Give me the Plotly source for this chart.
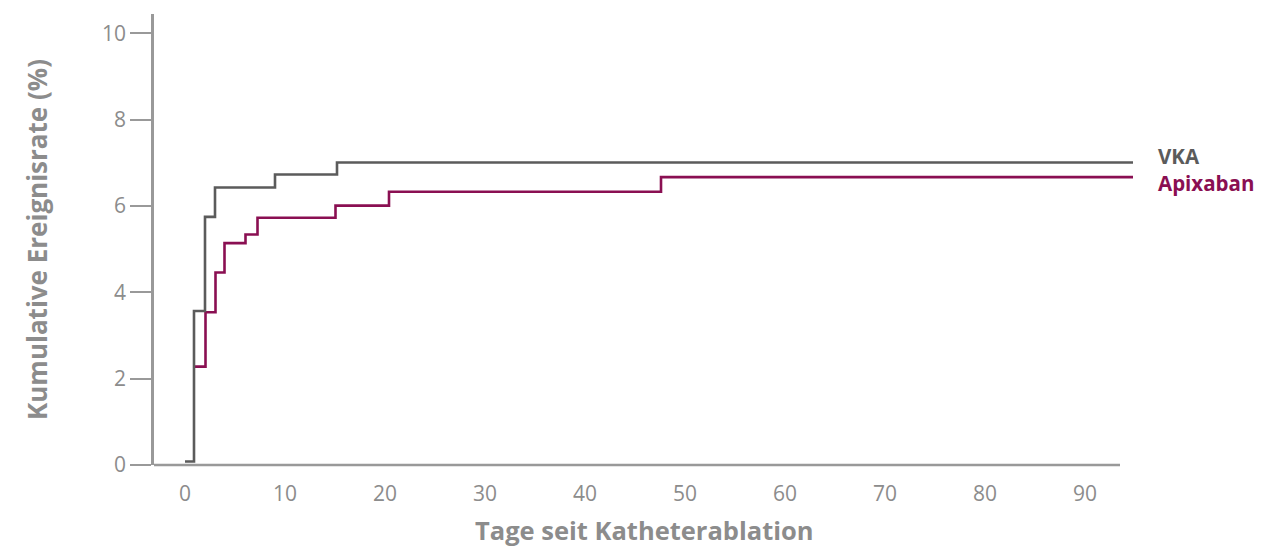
import plotly.graph_objects as go

# Data (days since catheter ablation, cumulative event rate %)
vka_days = [0, 0.9, 0.9, 2, 2, 3, 3, 9, 9, 15.2, 15.2, 94.8]
vka_rate = [0.08, 0.08, 3.57, 3.57, 5.75, 5.75, 6.43, 6.43, 6.73, 6.73, 7.01, 7.01]

apx_days = [0.9, 2.05, 2.05, 3.05, 3.05, 3.95, 3.95, 6.05, 6.05, 7.25, 7.25, 15.05, 15.05, 20.4, 20.4, 47.6, 47.6, 94.8]
apx_rate = [2.28, 2.28, 3.54, 3.54, 4.46, 4.46, 5.14, 5.14, 5.34, 5.34, 5.73, 5.73, 6.01, 6.01, 6.33, 6.33, 6.67, 6.67]

x_ticks = [0, 10, 20, 30, 40, 50, 60, 70, 80, 90]
y_ticks = [0, 2, 4, 6, 8, 10]

VKA_COLOR = "#5b5b5b"
APX_COLOR = "#8a0f52"
AXIS_COLOR = "#999999"
TEXT_COLOR = "#8c8c8c"

fig = go.Figure()
fig.add_trace(go.Scatter(x=apx_days, y=apx_rate, mode="lines", name="Apixaban",
                         line=dict(color=APX_COLOR, width=2.6), hoverinfo="skip"))
fig.add_trace(go.Scatter(x=vka_days, y=vka_rate, mode="lines", name="VKA",
                         line=dict(color=VKA_COLOR, width=2.6), hoverinfo="skip"))

fig.add_annotation(x=1, xref="paper", xshift=21, y=vka_rate[-1], yref="y", yshift=6,
                   text="<b>VKA</b>", showarrow=False, xanchor="left", yanchor="middle",
                   font=dict(family="Open Sans", size=20.5, color=VKA_COLOR))
fig.add_annotation(x=1, xref="paper", xshift=21, y=apx_rate[-1], yref="y", yshift=-6,
                   text="<b>Apixaban</b>", showarrow=False, xanchor="left", yanchor="middle",
                   font=dict(family="Open Sans", size=20.5, color=APX_COLOR))

# x axis title, placed like the reference
fig.add_annotation(x=0.5, xref="paper", y=0, yref="paper", yshift=-65,
                   text="<b>Tage seit Katheterablation</b>", showarrow=False,
                   xanchor="center", yanchor="middle",
                   font=dict(family="Open Sans", size=25.5, color=TEXT_COLOR))

# x axis baseline (shorter than plotting range, like the reference)
fig.add_shape(type="line", xref="x", yref="paper", x0=-3.1, x1=93.5, y0=0, y1=0,
              line=dict(color=AXIS_COLOR, width=2.5), layer="below")

# page body has an 8px default margin, so size the figure to fit the window
fig.update_layout(
    width=1255, height=540,
    margin=dict(l=146, r=128, t=6, b=83),
    paper_bgcolor="white", plot_bgcolor="white",
    showlegend=False,
    font=dict(family="Open Sans", color=TEXT_COLOR),
    xaxis=dict(range=[-3.1, 95], tickvals=x_ticks, ticktext=[str(v) for v in x_ticks],
               showgrid=False, zeroline=False, showline=False, ticks="",
               ticklabelstandoff=14, automargin=False,
               tickfont=dict(size=21, color=TEXT_COLOR)),
    yaxis=dict(range=[0, 10.45], tickvals=y_ticks, ticktext=[str(v) for v in y_ticks],
               showgrid=False, zeroline=False, showline=True, linecolor=AXIS_COLOR, linewidth=2.5,
               ticks="outside", ticklen=21, tickwidth=1.5, tickcolor=AXIS_COLOR,
               automargin=False,
               tickfont=dict(size=21, color=TEXT_COLOR),
               title=dict(text="<b>Kumulative Ereignisrate (%)</b>", standoff=47,
                          font=dict(size=26, color=TEXT_COLOR))),
)

fig.write_html("out.html")
